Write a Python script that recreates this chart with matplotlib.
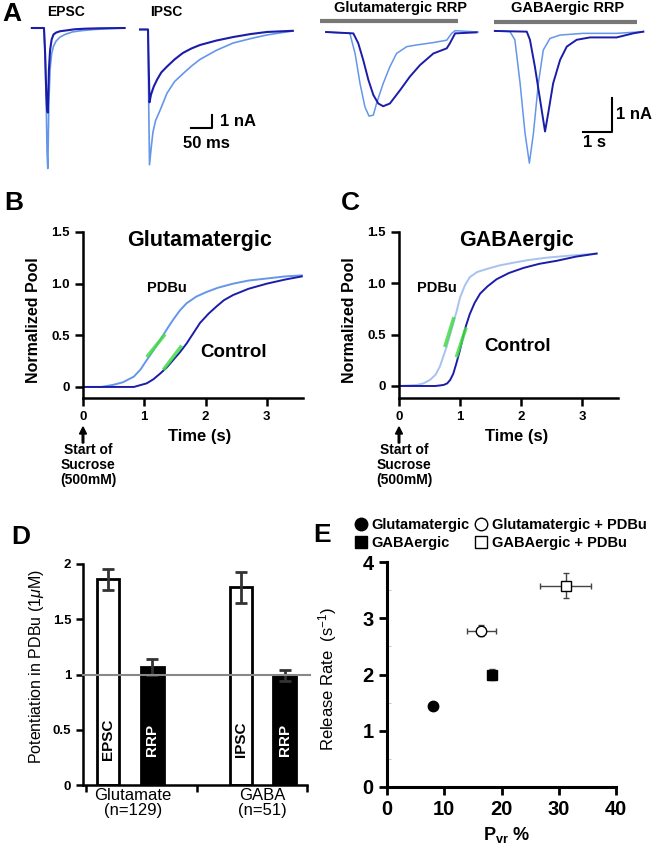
import numpy as np
import matplotlib
matplotlib.use('Agg')
import matplotlib.pyplot as plt
from matplotlib.lines import Line2D

plt.rcParams['font.family'] = ['Liberation Sans', 'DejaVu Sans']
plt.rcParams['mathtext.fontset'] = 'custom'
plt.rcParams['mathtext.rm'] = 'Liberation Sans'
plt.rcParams['mathtext.it'] = 'Liberation Sans:italic'
plt.rcParams['mathtext.bf'] = 'Liberation Sans:bold'

W, H = 660, 852
DARK = '#1c1caa'
LIGHT = '#6496ea'
PALE = '#a8c2f0'
GREEN = '#44dd44'

# ---------------- data ----------------
# A: EPSC / IPSC example traces (time in ms from onset, current in nA)
epsc_light_t = [-32, 0, 3, 6, 8, 10, 11, 13, 16, 20, 25, 32, 42, 55, 75, 100, 130, 170, 212]
epsc_light_i = [0, 0, -2, -6, -9.5, -10.8, -9, -5.5, -3.2, -2.0, -1.4, -1.0, -0.7, -0.5, -0.3, -0.2, -0.12, -0.05, 0]
epsc_dark_t = [-32, 0, 3, 6, 8, 10, 11, 13, 16, 20, 25, 32, 42, 55, 80, 110, 150, 212]
epsc_dark_i = [0, 0, -2, -5, -6.2, -6.5, -5.5, -3.2, -1.7, -0.9, -0.5, -0.35, -0.25, -0.2, -0.1, -0.05, -0.02, 0]

ipsc_light_t = [-21, 0, 2, 4, 8, 13, 20, 32, 50, 70, 92, 115, 137, 180, 224, 270, 313, 350, 381]
ipsc_light_i = [0, 0, -6, -10.4, -9.2, -7.9, -7.0, -6.2, -4.9, -4.0, -3.4, -2.8, -2.3, -1.6, -1.04, -0.7, -0.42, -0.25, -0.12]
ipsc_dark_t = [-21, 0, 2, 4, 8, 15, 24, 35, 50, 70, 92, 115, 137, 180, 224, 270, 313, 381]
ipsc_dark_i = [0, 0, -3, -5.6, -5.0, -4.4, -3.85, -3.3, -2.85, -2.3, -1.8, -1.45, -1.19, -0.85, -0.58, -0.35, -0.19, -0.1]

# A: sucrose RRP traces (time in s from sucrose onset, current in nA)
glu_light_t = [0.21, 0.86, 1.03, 1.21, 1.38, 1.55, 1.69, 1.84, 1.95, 2.18, 2.41, 2.64, 2.99, 3.33, 3.91, 4.37, 4.54, 4.66, 5.45]
glu_light_i = [0, -0.03, -0.04, -0.63, -1.51, -2.2, -2.47, -2.44, -2.1, -1.51, -1.02, -0.63, -0.43, -0.38, -0.31, -0.24, -0.04, 0.04, 0]
glu_dark_t = [0.21, 1.15, 1.32, 1.49, 1.67, 1.84, 2.01, 2.18, 2.41, 2.76, 3.1, 3.45, 3.91, 4.37, 4.48, 4.66, 5.4]
glu_dark_i = [0, -0.04, -0.33, -0.82, -1.41, -1.85, -2.1, -2.18, -2.1, -1.71, -1.31, -0.97, -0.63, -0.48, -0.33, -0.04, -0.01]

gaba_light_t = [0.03, 0.55, 0.72, 0.9, 1.07, 1.22, 1.36, 1.53, 1.70, 1.93, 2.28, 3.08, 4.23, 5.15]
gaba_light_i = [0, -0.02, -0.26, -1.54, -3.01, -3.89, -3.01, -1.54, -0.56, -0.22, -0.12, -0.07, -0.07, -0.02]
gaba_dark_t = [0.03, 1.13, 1.24, 1.41, 1.59, 1.76, 1.87, 2.04, 2.28, 2.51, 2.85, 3.31, 4.23, 4.80, 5.15]
gaba_dark_i = [0, -0.02, -0.26, -1.05, -2.03, -2.96, -2.42, -1.54, -0.85, -0.46, -0.26, -0.19, -0.19, -0.07, -0.02]

# B: glutamatergic cumulative pool (time s, normalized)
b_pdbu_t = [0, 0.3, 0.49, 0.65, 0.83, 0.94, 1.04, 1.15, 1.26, 1.37, 1.47, 1.58, 1.69, 1.85,
            2.02, 2.2, 2.45, 2.7, 3.0, 3.3, 3.57]
b_pdbu_y = [0, 0, 0.02, 0.045, 0.10, 0.17, 0.26, 0.355, 0.455, 0.56, 0.65, 0.74, 0.81, 0.875,
            0.92, 0.96, 1.00, 1.03, 1.05, 1.07, 1.08]
b_ctrl_t = [0, 0.5, 0.83, 1.04, 1.15, 1.26, 1.37, 1.47, 1.58, 1.69, 1.8, 1.91, 2.05, 2.18,
            2.3, 2.45, 2.7, 3.0, 3.3, 3.57]
b_ctrl_y = [0, 0, 0.0, 0.035, 0.075, 0.13, 0.19, 0.26, 0.335, 0.42, 0.52, 0.62, 0.71, 0.78,
            0.84, 0.89, 0.95, 1.00, 1.04, 1.07]
b_pdbu_fit_t, b_pdbu_fit_y = [1.04, 1.34], [0.29, 0.51]
b_ctrl_fit_t, b_ctrl_fit_y = [1.31, 1.61], [0.165, 0.40]

# C: GABAergic cumulative pool
c_pdbu_t = [0, 0.29, 0.4, 0.51, 0.6, 0.67, 0.78, 0.89, 0.95, 1.0, 1.08, 1.16, 1.28, 1.44,
            1.65, 1.87, 2.1, 2.42, 2.8, 3.24]
c_pdbu_y = [0, 0.01, 0.025, 0.06, 0.11, 0.19, 0.38, 0.61, 0.74, 0.86, 0.98, 1.06, 1.11, 1.14,
            1.175, 1.20, 1.225, 1.25, 1.27, 1.29]
c_ctrl_t = [0, 0.6, 0.73, 0.79, 0.84, 0.89, 0.94, 1.0, 1.05, 1.1, 1.16, 1.24, 1.33, 1.45,
            1.60, 1.8, 2.04, 2.3, 2.59, 2.9, 3.24]
c_ctrl_y = [0, 0, 0.01, 0.025, 0.06, 0.12, 0.22, 0.35, 0.48, 0.59, 0.70, 0.81, 0.90, 0.97,
            1.04, 1.10, 1.15, 1.19, 1.22, 1.26, 1.29]
c_pdbu_fit_t, c_pdbu_fit_y = [0.75, 0.90], [0.38, 0.67]
c_ctrl_fit_t, c_ctrl_fit_y = [0.94, 1.10], [0.28, 0.57]

# D: potentiation by PDBu
d_labels = ['EPSC', 'RRP', 'IPSC', 'RRP']
d_values = [1.86, 1.07, 1.79, 0.99]
d_errors = [0.095, 0.07, 0.14, 0.05]
d_groups = ['Glutamate\n(n=129)', 'GABA\n(n=51)']

# E: release rate vs Pvr
e_names = ['Glutamatergic', 'GABAergic', 'Glutamatergic + PDBu', 'GABAergic + PDBu']
e_pvr = [8.1, 18.4, 16.5, 31.2]
e_pvr_err = [0.4, 0.7, 2.6, 4.4]
e_rate = [1.44, 2.0, 2.78, 3.58]
e_rate_err = [0.05, 0.1, 0.1, 0.22]
e_markers = ['o', 's', 'o', 's']
e_filled = [True, True, False, False]

# ---------------- figure ----------------
fig = plt.figure(figsize=(6.6, 8.52), dpi=100)


def box(l, t, r, b):
    return fig.add_axes([l / W, 1 - b / H, (r - l) / W, (b - t) / H])


def ftext(x, y, s, **kw):
    kw.setdefault('ha', 'center')
    kw.setdefault('va', 'center')
    fig.text(x / W, 1 - y / H, s, **kw)


for lab, x, y in [('A', 12, 14), ('B', 14, 203), ('C', 350, 203), ('D', 21, 537), ('E', 322, 535)]:
    ftext(x, y, lab, fontsize=19, fontweight='bold')

# ---- A ----
ax = box(30, 15, 128, 175)
ax.plot(epsc_light_t, epsc_light_i, color=LIGHT, lw=1.2)
ax.plot(epsc_dark_t, epsc_dark_i, color=DARK, lw=1.5)
ax.set_xlim(-36.8, 221)
ax.set_ylim(-11.3, 1.0)
ax.axis('off')

ax = box(138, 15, 300, 175)
ax.plot(ipsc_light_t, ipsc_light_i, color=LIGHT, lw=1.2)
ax.plot(ipsc_dark_t, ipsc_dark_i, color=DARK, lw=1.5)
ax.plot([113, 168, 168], [-7.58, -7.58, -6.58], color='black', lw=1.5)
ax.text(189, -7.1, '1 nA', fontsize=12, fontweight='bold', va='center')
ax.text(155, -8.73, '50 ms', fontsize=12, fontweight='bold', ha='center', va='center')
ax.set_xlim(-26.3, 400)
ax.set_ylim(-11.19, 1.115)
ax.axis('off')

ftext(66, 12, 'EPSC', fontsize=10, fontweight='bold')
ftext(166, 12, 'IPSC', fontsize=10, fontweight='bold')

ax = box(315, 15, 485, 175)
ax.plot([0, 4.76], [0.32, 0.32], color='#777777', lw=3, solid_capstyle='butt')
ax.plot(glu_light_t, glu_light_i, color=LIGHT, lw=1.1)
ax.plot(glu_dark_t, glu_dark_i, color=DARK, lw=1.4)
ax.set_xlim(-0.172, 5.69)
ax.set_ylim(-4.2, 0.5)
ax.axis('off')
ftext(401, 8, 'Glutamatergic RRP', fontsize=10.5, fontweight='bold')

ax = box(488, 15, 650, 175)
ax.plot([0, 4.93], [0.265, 0.265], color='#777777', lw=3, solid_capstyle='butt')
ax.plot(gaba_light_t, gaba_light_i, color=LIGHT, lw=1.1)
ax.plot(gaba_dark_t, gaba_dark_i, color=DARK, lw=1.4)
ax.plot([3.07, 4.07, 4.07], [-2.97, -2.97, -1.97], color='black', lw=1.5)
ax.text(4.21, -2.47, '1 nA', fontsize=12, fontweight='bold', va='center')
ax.text(3.45, -3.29, '1 s', fontsize=12, fontweight='bold', ha='center', va='center')
ax.set_xlim(-0.207, 5.38)
ax.set_ylim(-4.24, 0.47)
ax.axis('off')
ftext(568, 8, 'GABAergic RRP', fontsize=10.5, fontweight='bold')


# ---- B, C ----
def pool_axes(ax, pdbu, ctrl, pfit, cfit, pcol):
    ax.plot(pdbu[0], pdbu[1], color=pcol, lw=1.4)
    ax.plot(ctrl[0], ctrl[1], color=DARK, lw=1.4)
    ax.plot(pfit[0], pfit[1], color=GREEN, lw=2.5, alpha=0.85, solid_capstyle='butt')
    ax.plot(cfit[0], cfit[1], color=GREEN, lw=2.5, alpha=0.85, solid_capstyle='butt')
    ax.set_xlim(0, 3.59)
    ax.set_xticks([0, 1, 2, 3])
    ax.set_yticks([0, 0.5, 1.0, 1.5])
    ax.set_yticklabels(['0', '0.5', '1.0', '1.5'])
    for s in ['top', 'right']:
        ax.spines[s].set_visible(False)
    for s in ['left', 'bottom']:
        ax.spines[s].set_linewidth(1.8)
    ax.tick_params(width=1.8, length=6, labelsize=9.5)
    for t in ax.get_xticklabels() + ax.get_yticklabels():
        t.set_fontweight('bold')
    ax.set_facecolor('none')


ax = box(83, 232, 303, 398)
ax.set_ylim(-0.107, 1.5)
pool_axes(ax, (b_pdbu_t, b_pdbu_y), (b_ctrl_t, b_ctrl_y),
          (b_pdbu_fit_t, b_pdbu_fit_y), (b_ctrl_fit_t, b_ctrl_fit_y), LIGHT)
ftext(200, 240, 'Glutamatergic', fontsize=15.5, fontweight='bold')
ftext(167, 288, 'PDBu', fontsize=10.5, fontweight='bold')
ftext(234, 353, 'Control', fontsize=13.5, fontweight='bold')
ftext(33, 320, 'Normalized Pool', fontsize=11.5, fontweight='bold', rotation=90)
ftext(200, 437, 'Time (s)', fontsize=12, fontweight='bold')

ax = box(399, 232, 618, 398)
ax.set_ylim(-0.117, 1.5)
pool_axes(ax, (c_pdbu_t, c_pdbu_y), (c_ctrl_t, c_ctrl_y),
          (c_pdbu_fit_t, c_pdbu_fit_y), (c_ctrl_fit_t, c_ctrl_fit_y), PALE)
ftext(517, 240, 'GABAergic', fontsize=15.5, fontweight='bold')
ftext(437, 288, 'PDBu', fontsize=10.5, fontweight='bold')
ftext(518, 347, 'Control', fontsize=13.5, fontweight='bold')
ftext(349, 320, 'Normalized Pool', fontsize=11.5, fontweight='bold', rotation=90)
ftext(517, 437, 'Time (s)', fontsize=12, fontweight='bold')

for x0 in [83, 399]:
    fig.add_artist(matplotlib.patches.FancyArrow(x0 / W, 1 - 443 / H, 0, 16 / H, width=1.6 / W,
                                                 head_width=7 / W, head_length=7 / H,
                                                 length_includes_head=True, color='black',
                                                 transform=fig.transFigure))
    ftext(x0 + 5, 465, 'Start of\nSucrose\n(500mM)', fontsize=10, fontweight='bold',
          linespacing=1.1)

# ---- D ----
ax = box(83, 564, 307, 785)
d_x = [0.223, 0.62, 1.41, 1.80]
d_colors = ['white', 'black', 'white', 'black']
ax.bar(d_x, d_values, width=0.2, color=d_colors, edgecolor='black', linewidth=2, zorder=2)
ax.errorbar(d_x, d_values, yerr=d_errors, fmt='none', ecolor='#333333', elinewidth=2,
            capsize=4, capthick=2, zorder=3)
ax.plot([0, 2.03], [1, 1], color='#888888', lw=1.5, clip_on=False, zorder=4)
for x, lab, c in zip(d_x, d_labels, d_colors):
    ax.text(x, 0.41, lab, rotation=90, ha='center', va='center', fontsize=11,
            fontweight='bold', color='white' if c == 'black' else 'black', zorder=5)
ax.set_xlim(0, 2)
ax.set_ylim(0, 2)
ax.set_xticks([0.03, 1.02, 2.0])
ax.set_xticklabels([])
ax.set_xticks([0.446, 1.6], minor=True)
ax.set_xticklabels(d_groups, minor=True, fontsize=12, linespacing=1.0)
ax.tick_params(axis='x', which='minor', length=0, pad=2)
ax.set_yticks([0, 0.5, 1, 1.5, 2])
ax.set_yticklabels(['0', '0.5', '1', '1.5', '2'])
for t in ax.get_yticklabels():
    t.set_fontweight('bold')
ax.tick_params(axis='both', which='major', width=1.8, length=5, labelsize=9.5)
for s in ['top', 'right']:
    ax.spines[s].set_visible(False)
for s in ['left', 'bottom']:
    ax.spines[s].set_linewidth(1.8)
ftext(37, 667, 'Potentiation in PDBu (1$\\mathit{\\mu}$M)', fontsize=11.5, rotation=90)

# ---- E ----
ax = box(387, 562, 616, 787)
for i in range(4):
    ax.errorbar(e_pvr[i], e_rate[i], xerr=e_pvr_err[i], yerr=e_rate_err[i], fmt='none',
                ecolor='#444444', elinewidth=1, capsize=2, capthick=1, zorder=2)
handles = []
for i in range(4):
    fc = 'black' if e_filled[i] else 'white'
    ax.plot(e_pvr[i], e_rate[i], marker=e_markers[i], ms=7.5, mfc=fc, mec='black',
            mew=1, ls='none', zorder=3)
    handles.append(Line2D([], [], marker=e_markers[i], ms=9, mfc=fc, mec='black', mew=1,
                          ls='none', label=e_names[i]))
ax.set_xlim(0, 40)
ax.set_ylim(0, 4)
ax.set_xticks([0, 10, 20, 30, 40])
ax.set_yticks([0, 1, 2, 3, 4])
ax.set_yticks([0.5, 1.5, 2.5, 3.5], minor=True)
ax.tick_params(axis='both', which='major', width=2, length=6, labelsize=14.5)
ax.tick_params(axis='y', which='minor', direction='in', length=3, width=0.6, color='#bbbbbb')
for t in ax.get_xticklabels() + ax.get_yticklabels():
    t.set_fontweight('bold')
for s in ['top', 'right']:
    ax.spines[s].set_visible(False)
for s in ['left', 'bottom']:
    ax.spines[s].set_linewidth(2.2)
ax.set_facecolor('none')
fig.legend(handles=handles, loc='upper left', bbox_to_anchor=(357 / W, 1 - 518 / H), ncol=2,
           frameon=False, handlelength=0.6, handletextpad=0.4, columnspacing=0.5,
           labelspacing=0.25, borderpad=0, borderaxespad=0, prop={'size': 10.5, 'weight': 'bold'})
ftext(328, 679, 'Release Rate  (s$^{-1}$)', fontsize=12, rotation=90)
ftext(507, 835, 'P$_{\\mathbf{vr}}$ %', fontsize=13, fontweight='bold')

fig.savefig('out.png', dpi=100)
